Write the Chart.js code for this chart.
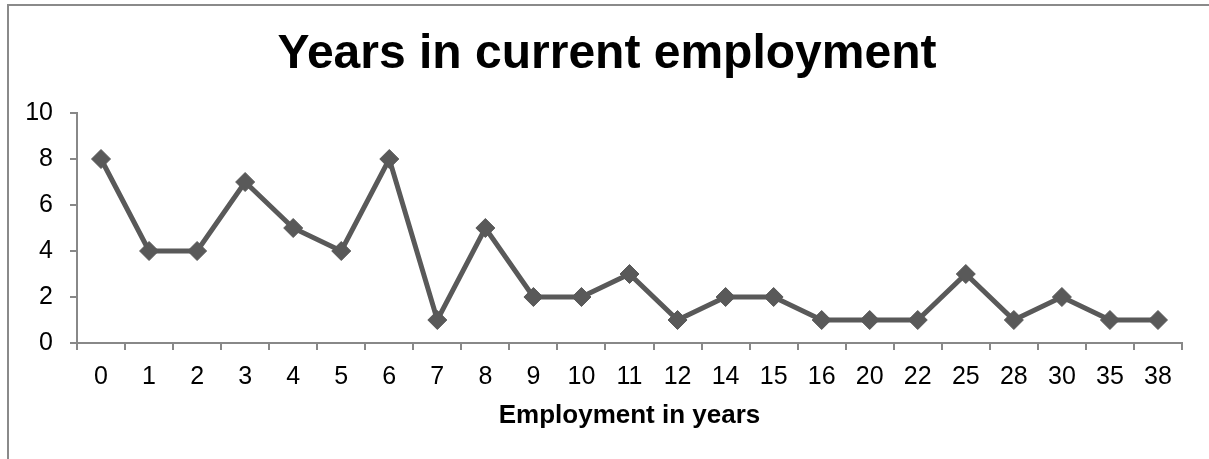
<!DOCTYPE html>
<html>
<head>
<meta charset="utf-8">
<title>Years in current employment</title>
<script src="https://cdn.jsdelivr.net/npm/chart.js@4/dist/chart.umd.min.js"></script>
<style>
  html, body { margin: 0; padding: 0; background: #ffffff; }
  #wrap { width: 1209px; height: 459px; position: relative; }
</style>
</head>
<body>
<div id="wrap"><canvas id="chart" width="1209" height="459"></canvas></div>
<script>
// Years spent in current employment and how many people report each
const years = ['0','1','2','3','4','5','6','7','8','9','10','11','12','14','15','16','20','22','25','28','30','35','38'];
const counts = [8, 4, 4, 7, 5, 4, 8, 1, 5, 2, 2, 3, 1, 2, 2, 1, 1, 1, 3, 1, 2, 1, 1];
const yTicks = [0, 2, 4, 6, 8, 10];

const FONT = '"Liberation Sans", Arial, Helvetica, sans-serif';
const LINE = '#595959';
const AXIS = '#888888';

// Outer chart frame (open to the right and bottom)
const framePlugin = {
  id: 'frame',
  afterLayout(chart) {
    // centre the title over the frame rather than the padded canvas
    if (chart.titleBlock) chart.titleBlock.left = 32;
  },
  beforeDraw(chart) {
    const ctx = chart.ctx;
    ctx.save();
    ctx.fillStyle = '#ffffff';
    ctx.fillRect(0, 0, chart.width, chart.height);
    ctx.strokeStyle = '#8a8a8a';
    ctx.lineWidth = 2;
    ctx.beginPath();
    ctx.moveTo(8, chart.height + 5);
    ctx.lineTo(8, 5);
    ctx.lineTo(chart.width + 5, 5);
    ctx.stroke();
    ctx.restore();
  }
};

new Chart(document.getElementById('chart'), {
  type: 'line',
  data: {
    labels: years,
    datasets: [{
      data: counts,
      borderColor: LINE,
      backgroundColor: LINE,
      borderWidth: 5,
      pointStyle: 'rectRot',
      pointRadius: 9.5,
      pointHoverRadius: 9.5,
      pointBackgroundColor: LINE,
      pointBorderColor: LINE,
      pointBorderWidth: 1,
      tension: 0,
      fill: false
    }]
  },
  options: {
    responsive: false,
    animation: false,
    events: [],
    layout: { padding: { left: 0, right: 27, top: 0, bottom: 0 } },
    plugins: {
      legend: { display: false },
      tooltip: { enabled: false },
      title: {
        display: true,
        text: 'Years in current employment',
        color: '#000000',
        font: { family: FONT, size: 48, weight: 'bold' },
        padding: { top: 26, bottom: 29.4 }
      }
    },
    scales: {
      x: {
        offset: true,
        grid: {
          offset: true,
          drawOnChartArea: false,
          drawTicks: true,
          tickLength: 7,
          color: AXIS,
          lineWidth: 2
        },
        border: { display: true, color: AXIS, width: 2 },
        ticks: {
          color: '#000000',
          font: { family: FONT, size: 25 },
          padding: 12,
          maxRotation: 0,
          autoSkip: false
        },
        title: {
          display: true,
          text: 'Employment in years',
          color: '#000000',
          font: { family: FONT, size: 26, weight: 'bold' },
          padding: { top: 4, bottom: 28 }
        },
        afterFit(scale) { scale.height = 116; }
      },
      y: {
        min: 0,
        max: 10,
        afterBuildTicks(scale) { scale.ticks = yTicks.map(v => ({ value: v })); },
        grid: {
          drawOnChartArea: false,
          drawTicks: true,
          tickLength: 7,
          color: AXIS,
          lineWidth: 2
        },
        border: { display: true, color: AXIS, width: 2 },
        ticks: {
          color: '#000000',
          font: { family: FONT, size: 25 },
          padding: 17
        },
        afterFit(scale) { scale.width = 77; }
      }
    }
  },
  plugins: [framePlugin]
});
</script>
</body>
</html>
